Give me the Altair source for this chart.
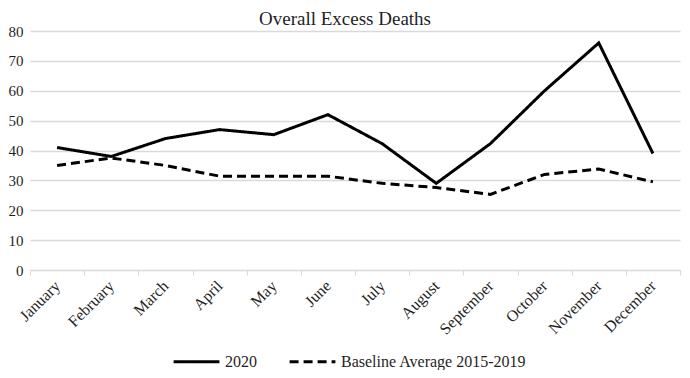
import altair as alt
import pandas as pd

months = ["January", "February", "March", "April", "May", "June", "July",
          "August", "September", "October", "November", "December"]
deaths_2020 = [41, 38, 44, 47, 45.3, 52, 42.3, 29, 42.3, 60, 76, 39]
baseline = [35, 37.5, 35, 31.4, 31.4, 31.4, 29, 27.6, 25.3, 32, 33.8, 29.5]
series_names = ["2020", "Baseline Average 2015-2019"]

rows = []
for m, a, b in zip(months, deaths_2020, baseline):
    rows.append({"month": m, "series": series_names[0], "value": a})
    rows.append({"month": m, "series": series_names[1], "value": b})
df = pd.DataFrame(rows)

W = 650
FONT = "Liberation Serif"
TXT = "#1f1f1f"

chart = alt.Chart(df).mark_line(strokeWidth=3, color="black").encode(
    x=alt.X("month:N", sort=months, title=None, bandPosition=0.5,
            scale=alt.Scale(type="band", paddingInner=0, paddingOuter=0),
            axis=alt.Axis(tickBand="extent", labelAngle=-45,
                          labelAlign="right", labelBaseline="middle",
                          labelFont=FONT, labelFontSize=16, labelColor=TXT,
                          domainColor="#d9d9d9", tickColor="#d9d9d9", tickSize=5,
                          grid=False, labelPadding=8)),
    y=alt.Y("value:Q", title=None,
            scale=alt.Scale(domain=[0, 80]),
            axis=alt.Axis(values=list(range(0, 81, 10)), domain=False, ticks=False,
                          gridColor="#d9d9d9", gridWidth=1.5, labelFont=FONT,
                          labelFontSize=15, labelColor=TXT, labelPadding=7)),
    strokeDash=alt.StrokeDash("series:N", sort=series_names,
                              scale=alt.Scale(domain=series_names, range=[[1, 0], [9, 5]]),
                              legend=alt.Legend(title=None, orient="none", direction="horizontal",
                                                legendX=142, legendY=306,
                                                symbolType="stroke", symbolSize=2100,
                                                symbolStrokeWidth=3, symbolStrokeColor="black",
                                                labelFont=FONT, labelFontSize=16, labelLimit=0,
                                                labelColor=TXT, labelOffset=4,
                                                columnPadding=26)),
).properties(
    width=W, height=239,
    title=alt.TitleParams("Overall Excess Deaths", font=FONT, fontSize=19,
                          fontWeight="normal", color=TXT, anchor="middle",
                          dx=-10, dy=13, offset=8),
    autosize=alt.AutoSizeParams(type="none"),
    padding={"left": 22, "top": 23, "right": 2, "bottom": 100},
).configure_view(stroke=None)

chart.save("out.html", embed_options={"renderer": "svg", "actions": False})
